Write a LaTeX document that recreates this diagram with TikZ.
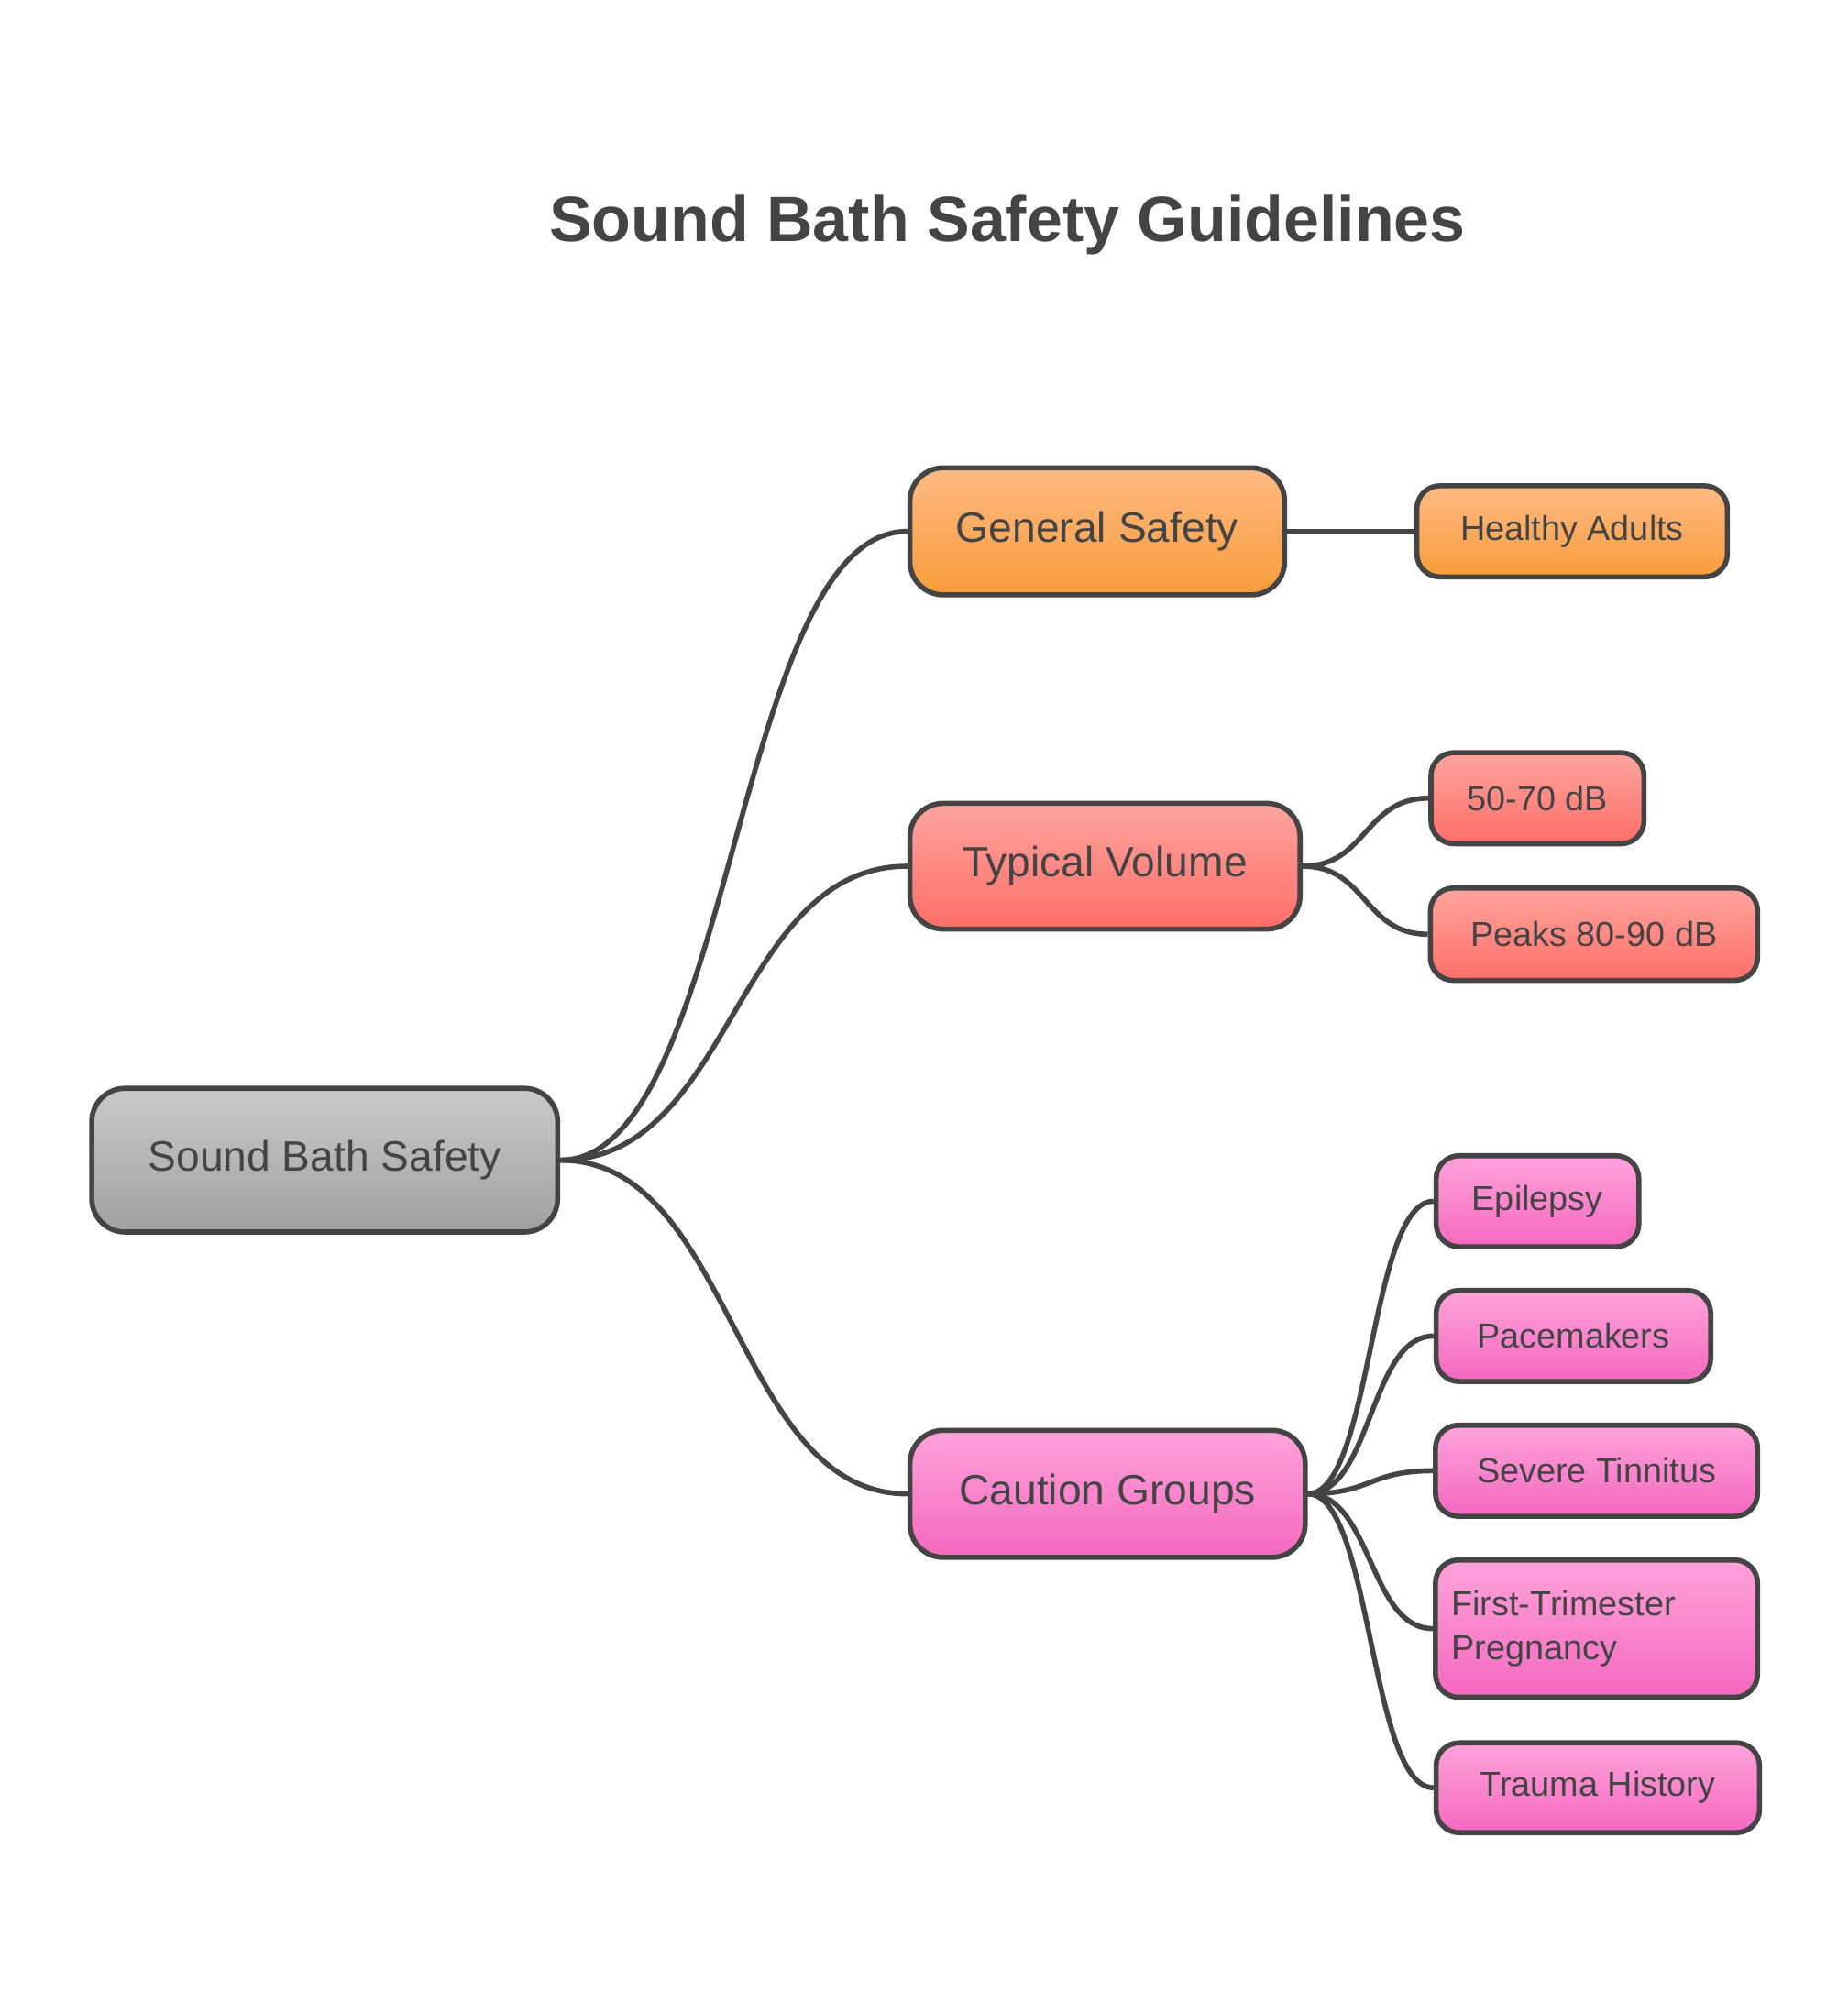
\documentclass[tikz,border=0pt]{standalone}
\usepackage{fontspec}
\setmainfont{Liberation Sans}
\begin{document}
\begin{tikzpicture}[x=0.5pt,y=-0.5pt,
  box/.style={draw=ln,line width=2pt,text=ln,inner sep=0pt},
  big/.style={box,rounded corners=13pt,font=\fontsize{16.5}{20}\selectfont},
  leaf/.style={box,rounded corners=9pt,font=\fontsize{13.5}{17}\selectfont,align=left,text width=#1},
  gray/.style={top color=gA,bottom color=gB},
  org/.style={top color=oA,bottom color=oB},
  red/.style={top color=rA,bottom color=rB},
  pnk/.style={top color=pA,bottom color=pB},
  edge/.style={draw=ln,line width=2pt}]
\definecolor{ln}{HTML}{444444}
\definecolor{gA}{HTML}{CACACA}\definecolor{gB}{HTML}{A0A0A0}
\definecolor{oA}{HTML}{FFBA85}\definecolor{oB}{HTML}{F89C3A}
\definecolor{rA}{HTML}{FFA49E}\definecolor{rB}{HTML}{FF6E68}
\definecolor{pA}{HTML}{FFA3DA}\definecolor{pB}{HTML}{F468BF}
\useasboundingbox (0,0) rectangle (1440,1560);
\node[text=ln,font=\bfseries\fontsize{25}{30}\selectfont] (title) at (785,175) {Sound Bath Safety Guidelines};
\node[big,gray,minimum width=181.5pt,minimum height=56pt] (root) at (253,904) {Sound Bath Safety};
\node[big,org,minimum width=146pt,minimum height=49.5pt] (gs) at (855,414) {General Safety};
\node[big,red,minimum width=152pt,minimum height=49pt] (tv) at (861,675) {Typical Volume};
\node[big,pnk,minimum width=154pt,minimum height=49.5pt] (cg) at (863,1164) {Caution Groups};
\tikzset{lf/.style 2 args={leaf=#1,minimum height=#2}}
\node[box,rounded corners=9pt,font=\fontsize{13.5}{17}\selectfont,org,minimum width=121pt,minimum height=35.5pt] (ha) at (1225,414) {Healthy Adults};
\node[box,rounded corners=9pt,font=\fontsize{13.5}{17}\selectfont,red,minimum width=83pt,minimum height=35.5pt] (v1) at (1198,622) {50-70 dB};
\node[box,rounded corners=9pt,font=\fontsize{13.5}{17}\selectfont,red,minimum width=127.5pt,minimum height=36pt] (v2) at (1242,728) {Peaks 80-90 dB};
\node[box,rounded corners=9pt,font=\fontsize{13.5}{17}\selectfont,pnk,minimum width=79pt,minimum height=35.5pt] (c1) at (1198,936) {Epilepsy};
\node[box,rounded corners=9pt,font=\fontsize{13.5}{17}\selectfont,pnk,minimum width=107pt,minimum height=35.5pt] (c2) at (1226,1041) {Pacemakers};
\node[box,rounded corners=9pt,font=\fontsize{13.5}{17}\selectfont,pnk,minimum width=125.5pt,minimum height=35.5pt] (c3) at (1244,1146) {Severe Tinnitus};
\node[box,rounded corners=9pt,font=\fontsize{13.5}{17}\selectfont,pnk,minimum width=125.5pt,minimum height=53.5pt,align=left,text width=113pt] (c4) at (1244,1269) {First-Trimester\\Pregnancy};
\node[box,rounded corners=9pt,font=\fontsize{13.5}{17}\selectfont,pnk,minimum width=126pt,minimum height=35pt] (c5) at (1245,1393) {Trauma History};
\begin{scope}[on background layer/.style={}]
\end{scope}
\draw[edge] (root.east) .. controls +(135,0) and +(-135,0) .. (gs.west);
\draw[edge] (root.east) .. controls +(135,0) and +(-135,0) .. (tv.west);
\draw[edge] (root.east) .. controls +(135,0) and +(-135,0) .. (cg.west);
\draw[edge] (gs.east) -- (ha.west);
\foreach \n in {v1,v2} \draw[edge] (tv.east) .. controls +(50,0) and +(-50,0) .. (\n.west);
\foreach \n in {c1,c2,c3,c4,c5} \draw[edge] (cg.east) .. controls +(50,0) and +(-50,0) .. (\n.west);
\end{tikzpicture}
\end{document}
